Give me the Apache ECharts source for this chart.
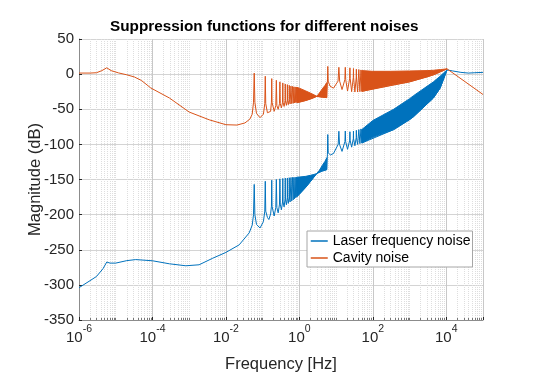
<!DOCTYPE html>
<html>
<head>
<meta charset="utf-8">
<script src="https://cdn.jsdelivr.net/npm/echarts@6/dist/echarts.min.js"></script>
<style>
  html, body { margin: 0; padding: 0; background: #fff; }
  #chart { width: 545px; height: 382px; }
</style>
</head>
<body>
<div id="chart"></div>
<script>
// [frequency (Hz), magnitude (dB)]
var laserLine = [
  [1e-6,-304],[2e-6,-294],[3e-6,-288],[4.5e-6,-277],[5.7e-6,-267.5],[7e-6,-269],[1e-5,-269],
  [2e-5,-265.5],[3.5e-5,-264],[1e-4,-265.7],[2.9e-4,-270],[8.1e-4,-272.8],[1.86e-3,-271.4],
  [4.4e-3,-262],[1e-2,-253.8],[2.3e-2,-243],[4.3e-2,-226],
  [0.052,-215],[0.0565,-200],[0.059,-157],[0.0615,-200],[0.068,-214],[0.085,-219],
  [0.105,-210],[0.1145,-195],[0.118,-152.5],[0.1215,-195],[0.135,-204],[0.148,-207],
  [0.165,-199],[0.1735,-188],[0.177,-151],[0.1805,-188],[0.206,-202],
  [0.228,-190],[0.236,-150],[0.244,-190],[0.265,-197.5],
  [0.288,-185],[0.295,-149],[0.302,-185],[0.325,-193],
  [0.348,-182],[0.354,-148.5],[0.36,-182],[0.384,-189],
  [0.408,-178],[0.413,-148],[0.418,-178],[0.443,-186],
  [0.468,-176],[0.472,-147.8],[0.476,-176],[0.5,-184],
  [0.527,-175],[0.531,-147.5],[0.535,-175],[0.56,-182],
  [0.59,-147.2],[0.62,-180.5],[0.649,-147],[0.68,-179],[0.708,-147],[0.738,-177.5],
  [0.767,-146.8],[0.795,-176],[0.826,-146.7],[0.855,-174.5],
  [1.5,-161],[2.98,-141.5],[4.2,-138],[5.5,-136],
  [5.8,-115],[5.94,-86],[6.1,-112],[7,-115],[8.5,-113],
  [11.4,-100],[11.9,-81.3],[12.4,-100],[14.5,-110],
  [17.4,-96],[17.8,-81],[18.2,-96],[20.5,-107],
  [23.5,-94],[23.8,-82],[24.1,-94],[26.5,-104],
  [29.45,-92],[29.7,-81],[29.95,-92],[32.5,-102],
  [35.4,-90],[35.6,-80],[35.8,-90],[38.5,-100],
  [41.6,-79],[44.5,-99],[47.5,-78],[50.5,-98],
  [370,-79],[1260,-61],[4470,-34],[6800,-20],[10500,6],
  [1.5e4,4.5],[2.5e4,2.5],[4e4,1.5],[6e4,2],[1e5,2.5]
];

var cavityLine = [
  [1e-6,1.5],[2e-6,1.5],[3e-6,2],[4.2e-6,5],[5.7e-6,9],[7.5e-6,5],[1.2e-5,1.7],[2e-5,-1],
  [3.2e-5,-4],[5e-5,-9],[9e-5,-19.7],[2.9e-4,-34],[1e-3,-54],[3.5e-3,-65],[1e-2,-72],
  [2e-2,-72.5],[3.3e-2,-69.5],[4.5e-2,-64],
  [0.052,-57],[0.0565,-40],[0.059,1.5],[0.0615,-40],[0.068,-56],[0.085,-62],
  [0.105,-57],[0.1145,-42],[0.118,-3],[0.1215,-42],[0.135,-55],[0.148,-57.7],
  [0.165,-53],[0.1735,-40],[0.177,-6.4],[0.1805,-40],[0.206,-53],
  [0.228,-45],[0.236,-8.8],[0.244,-45],[0.265,-50],
  [0.288,-42],[0.295,-11],[0.302,-42],[0.325,-48],
  [0.348,-40],[0.354,-12.5],[0.36,-40],[0.384,-46],
  [0.408,-38],[0.413,-14],[0.418,-38],[0.443,-44.5],
  [0.468,-37],[0.472,-15],[0.476,-37],[0.5,-43.5],
  [0.527,-36],[0.531,-16],[0.535,-36],[0.56,-42.5],
  [0.59,-17],[0.62,-42],[0.649,-17.5],[0.68,-41.5],[0.708,-18],[0.738,-41],
  [0.767,-18.2],[0.795,-40.5],[0.826,-18.5],[0.855,-40.3],
  [1.5,-37.5],[2.98,-31.6],[4.2,-32.8],[5.5,-33],
  [5.8,-12],[5.94,11],[6.1,-10],[6.8,-17],[8.5,-20],
  [11.3,-10],[11.9,9.7],[12.5,-10],[14.5,-22],
  [17.3,-8],[17.8,9.7],[18.3,-8],[20.5,-24],
  [23.4,-6],[23.8,9],[24.2,-6],[26.5,-25],
  [29.4,-5],[29.7,8],[30,-5],[32.5,-25.5],
  [35.4,-4],[35.6,7],[35.8,-4],[38.5,-25.5],
  [41.6,6.5],[44.5,-25],[47.5,6],[50.5,-24.5],
  [1000,-11],[4500,-1],[10500,7.5],[1e5,-29]
];

// dense resonance bands: [frequency, lower edge, upper edge]
var laserBand1 = [[0.85,-174.5,-146.7],[1.0,-171,-146.5],[1.5,-161,-145.5],[2.0,-153,-144],[2.5,-146.5,-142.8],[2.98,-141.5,-141.5]];
var laserHump = [[2.98,-141.5,-141.5],[3.5,-139.5,-137],[4.2,-138,-130],[5.0,-136.8,-124],[5.6,-136,-119]];
var laserBand2 = [[50,-98,-79],[100,-90,-66],[370,-79,-50],[1000,-65,-35],[1260,-61,-31],[4470,-34,-11],[6800,-20,-3],[10500,6,6]];
var cavityBand1 = [[0.85,-40.3,-18.7],[1.0,-40,-20],[1.5,-37.5,-24],[2.0,-35.5,-27],[2.5,-33.5,-29.5],[2.98,-31.6,-31.6]];
var cavityHump = [[2.98,-31.6,-31.6],[3.5,-32.2,-27],[4.2,-32.8,-21],[5.0,-33.2,-16],[5.6,-33.5,-12]];
var cavityBand2 = [[50,-24.5,5],[100,-21,4],[300,-16,4],[1000,-11,4.5],[3000,-4,5],[4500,-1,5.5],[7000,3.5,6.5],[10500,7.5,7.5]];

var seriesNames = ['Laser frequency noise', 'Cavity noise'];
var colors = ['#0072BD', '#D95319'];
var font = 'Liberation Sans, Arial, Helvetica, sans-serif';
var ink = '#262626';

function bandSeries(rows, color) {
  return {
    type: 'custom',
    clip: true,
    silent: true,
    data: rows,
    encode: { x: 0, y: [1, 2] },
    renderItem: function (params, api) {
      if (params.dataIndex !== 0) return null;
      var pts = [];
      for (var i = 0; i < rows.length; i++) pts.push(api.coord([rows[i][0], rows[i][2]]));
      for (var j = rows.length - 1; j >= 0; j--) pts.push(api.coord([rows[j][0], rows[j][1]]));
      return {
        type: 'polygon',
        shape: { points: pts },
        style: { fill: color, stroke: color, lineWidth: 1 }
      };
    }
  };
}

function lineSeries(name, data, color) {
  return {
    name: name,
    type: 'line',
    data: data,
    symbol: 'none',
    sampling: null,
    lineStyle: { color: color, width: 1 },
    itemStyle: { color: color }
  };
}

var myChart = echarts.init(document.getElementById('chart'));

myChart.setOption({
  animation: false,
  title: {
    text: 'Suppression functions for different noises',
    left: 110,
    top: 19,
    padding: 0,
    textStyle: { fontSize: 15.3, fontWeight: 'bold', color: '#000', fontFamily: font }
  },
  grid: { left: 79, right: 62, top: 39, bottom: 62 },
  legend: {
    data: seriesNames,
    orient: 'vertical',
    left: 307,
    top: 231,
    padding: [3, 2, 2, 3],
    itemGap: 3,
    itemWidth: 17,
    itemHeight: 14,
    backgroundColor: '#fff',
    borderColor: '#a6a6a6',
    borderWidth: 1,
    selectedMode: false,
    itemStyle: { opacity: 0 },
    lineStyle: { width: 1.5 },
    textStyle: { fontSize: 14, color: '#000', fontFamily: font, lineHeight: 14 }
  },
  xAxis: [
    {
      type: 'log',
      min: 1e-6,
      max: 1e5,
      interval: 1,
      position: 'bottom',
      name: 'Frequency [Hz]',
      nameLocation: 'middle',
      nameGap: 36,
      nameMoveOverlap: false,
      nameTextStyle: { fontSize: 16.5, color: ink, fontFamily: font },
      axisLine: { show: true, onZero: false, lineStyle: { color: '#8c8c8c', width: 1 } },
      axisTick: { show: true, inside: true, length: 2, lineStyle: { color: '#777' } },
      minorTick: { show: true, splitNumber: 9, length: 2, lineStyle: { color: '#777' } },
      axisLabel: { show: false },
      splitLine: { show: true, lineStyle: { color: '#dedede', type: 'dotted', width: 1 } },
      minorSplitLine: { show: true, lineStyle: { color: '#dedede', type: 'dotted', width: 1 } }
    },
    {
      type: 'log',
      min: 1e-6,
      max: 1e5,
      interval: 2,
      position: 'bottom',
      axisLine: { show: false, onZero: false },
      axisTick: { show: true, inside: true, length: 3, lineStyle: { color: ink } },
      axisLabel: {
        margin: 4,
        formatter: function (v) {
          var e = Math.round(Math.log10(v));
          if (e > 4) return '';
          return '{b|10}{s|' + e + '}';
        },
        rich: {
          b: { fontSize: 15, color: ink, fontFamily: font, lineHeight: 21, verticalAlign: 'bottom' },
          s: { fontSize: 10.5, color: ink, fontFamily: font, lineHeight: 11, verticalAlign: 'top' }
        }
      },
      splitLine: { show: true, lineStyle: { color: '#c8c8c8', width: 1 } }
    }
  ],
  yAxis: {
    type: 'value',
    min: -350,
    max: 50,
    interval: 50,
    name: 'Magnitude (dB)',
    nameLocation: 'middle',
    nameGap: 35,
    nameMoveOverlap: false,
    nameTextStyle: { fontSize: 16.5, color: ink, fontFamily: font },
    axisLine: { show: true, onZero: false, lineStyle: { color: '#8c8c8c', width: 1 } },
    axisTick: { show: true, inside: true, length: 3, lineStyle: { color: ink } },
    axisLabel: { fontSize: 15, color: ink, fontFamily: font, margin: 5 },
    splitLine: { show: true, lineStyle: { color: '#d4d4d4', width: 1 } }
  },
  series: [
    lineSeries(seriesNames[0], laserLine, colors[0]),
    bandSeries(laserBand1, colors[0]),
    bandSeries(laserHump, colors[0]),
    bandSeries(laserBand2, colors[0]),
    lineSeries(seriesNames[1], cavityLine, colors[1]),
    bandSeries(cavityBand1, colors[1]),
    bandSeries(cavityHump, colors[1]),
    bandSeries(cavityBand2, colors[1])
  ]
});
</script>
</body>
</html>
